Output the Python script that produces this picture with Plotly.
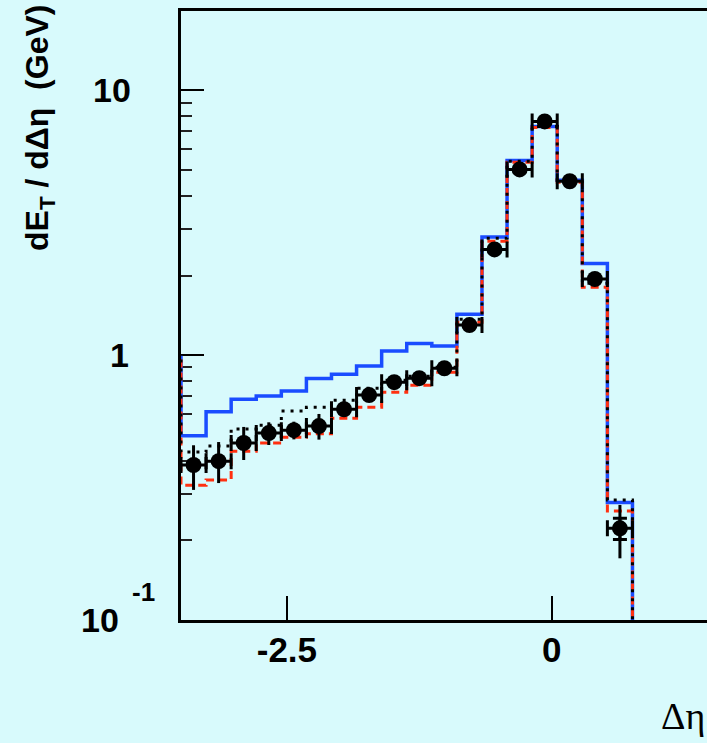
import numpy as np
import plotly.graph_objects as go

# ---------------- data ----------------
BIN_WIDTH = 4.5 / 19            # bin width in delta-eta
FIRST_EDGE = -3.5 - BIN_WIDTH   # first histogram bin lies just left of the visible range
FLOOR = 1e-3                    # "empty" level used to close the step histograms

# three model histograms (first entry = bin left of the frame)
hist_blue = [0.98, 0.496, 0.611, 0.682, 0.702, 0.733, 0.817, 0.848, 0.911, 1.038,
             1.107, 1.084, 1.428, 2.795, 5.442, 7.315, 4.575, 2.218, 0.278]
hist_red = [0.98, 0.323, 0.338, 0.434, 0.466, 0.490, 0.505, 0.578, 0.636, 0.725,
            0.770, 0.863, 1.332, 2.693, 5.35, 7.25, 4.496, 1.806, 0.258]
hist_black = [0.98, 0.431, 0.454, 0.526, 0.544, 0.615, 0.636, 0.676, 0.751, 0.805,
              0.833, 0.901, 1.367, 2.764, 5.40, 7.30, 4.58, 1.87, 0.284]

# measured points (one per visible bin)
data_y = [0.385, 0.398, 0.466, 0.508, 0.521, 0.540, 0.625, 0.707, 0.791, 0.819,
          0.893, 1.30, 2.51, 5.03, 7.64, 4.54, 1.94, 0.222]
data_err_hi = [0.072, 0.072, 0.070, 0.050, 0.040, 0.060, 0.045, 0.045, 0.045, 0.045,
               0.045, 0.050, 0.10, 0.15, 0.20, 0.15, 0.08, 0.050]
data_err_lo = [0.075, 0.069, 0.064, 0.050, 0.040, 0.060, 0.040, 0.040, 0.040, 0.040,
               0.040, 0.050, 0.10, 0.15, 0.20, 0.15, 0.08, 0.051]
inner_err_last = 0.0205   # inner (capped) error of the last point

xtick_vals = [-2.5, 0, 2.5]
xtick_text = ["-2.5", "0", "2.5"]
ytick_vals = [0.1, 1, 10]
ytick_text = ["10", "1", "10"]
ytick_exp = ["-1", "", ""]

# ---------------- derived ----------------
edges = FIRST_EDGE + BIN_WIDTH * np.arange(len(hist_blue) + 1)
centers = edges[1:len(data_y) + 1] + BIN_WIDTH / 2


def step_xy(vals):
    x = [edges[0]] + list(edges[:-1]) + [edges[-1]]
    y = [FLOOR] + list(vals) + [FLOOR]
    return x, y


BG = "#d8fafc"
SANS = "Liberation Sans, Arial, Helvetica, sans-serif"
SERIF = "Liberation Serif, Times New Roman, serif"

fig = go.Figure()

bx, by = step_xy(hist_blue)
fig.add_trace(go.Scatter(x=bx, y=by, mode="lines", line_shape="hv",
                         line=dict(color="#1a4cff", width=3.5), showlegend=False))
rx, ry = step_xy(hist_red)
fig.add_trace(go.Scatter(x=rx, y=ry, mode="lines", line_shape="hv",
                         line=dict(color="#ff3010", width=3, dash="8px,5px"), showlegend=False))
kx, ky = step_xy(hist_black)
fig.add_trace(go.Scatter(x=kx, y=ky, mode="lines", line_shape="hv",
                         line=dict(color="black", width=3, dash="3px,6px"), showlegend=False))

fig.add_trace(go.Scatter(
    x=centers, y=data_y, mode="markers",
    marker=dict(color="black", size=16, symbol="circle"),
    error_x=dict(type="constant", value=BIN_WIDTH / 2, color="black", thickness=3, width=8),
    error_y=dict(type="data", array=data_err_hi, arrayminus=data_err_lo,
                 color="black", thickness=3, width=0),
    showlegend=False))

# inner capped error of the last point
fig.add_trace(go.Scatter(
    x=[centers[-1]], y=[data_y[-1]], mode="markers",
    marker=dict(color="black", size=16, opacity=0),
    error_y=dict(type="constant", value=inner_err_last, color="black", thickness=3, width=7),
    showlegend=False))

# plot area in pixels
L, R, T, B = 181, 707, 11, 620
W, H = 707, 743
X_MIN = -3.5
PX_PER_UNIT = 105.9
X_MAX = X_MIN + (R - L) / PX_PER_UNIT

annotations = []
label_cx = {0.1: 100, 1: 119, 10: 112}
for v, t, e in zip(ytick_vals, ytick_text, ytick_exp):
    annotations.append(dict(x=(label_cx[v] - L) / (R - L), xref="paper",
                            y=np.log10(v), yref="y", text=t, showarrow=False,
                            xanchor="center", yanchor="middle",
                            font=dict(family=SANS, size=34, color="black", weight="bold")))
    if e:
        annotations.append(dict(x=(143 - L) / (R - L), xref="paper",
                                y=np.log10(v), yref="y", yshift=28, text=e, showarrow=False,
                                xanchor="center", yanchor="middle",
                                font=dict(family=SANS, size=26, color="black", weight="bold")))

annotations.append(dict(
    x=(40 - L) / (R - L), xref="paper", y=(B - 128) / (B - T), yref="paper",
    text="dE<sub>T</sub> / d\u0394\u03b7\u00a0\u00a0(GeV)", textangle=-90, showarrow=False,
    xanchor="center", yanchor="middle",
    font=dict(family=SANS, size=32, color="black", weight="bold")))

annotations.append(dict(
    x=1.0, xref="paper", y=-(716 - B) / (B - T), yref="paper",
    text="\u0394\u03b7", showarrow=False, xanchor="right", yanchor="middle",
    font=dict(family=SERIF, size=38, color="black")))

fig.update_layout(
    width=W, height=H,
    margin=dict(l=L, r=W - R, t=T, b=H - B, pad=0),
    paper_bgcolor=BG, plot_bgcolor=BG,
    showlegend=False,
    annotations=annotations,
    xaxis=dict(range=[X_MIN, X_MAX], showline=True, linewidth=3, linecolor="black",
               mirror=True, ticks="inside", ticklen=24, tickwidth=1.5, tickcolor="black",
               tickmode="array", tickvals=xtick_vals, ticktext=xtick_text,
               tickfont=dict(family=SANS, size=35, color="black", weight="bold"),
               ticklabelstandoff=-3, showgrid=False, zeroline=False, layer="below traces"),
    yaxis=dict(type="log", range=[-1, 1.3], showline=True, linewidth=3, linecolor="black",
               ticks="inside", ticklen=23, tickwidth=1.5, tickcolor="black",
               tickmode="array", tickvals=ytick_vals, showticklabels=False,
               minor=dict(ticks="inside", ticklen=11, tickwidth=1.5, tickcolor="#222",
                          dtick="D1", showgrid=False),
               showgrid=False, zeroline=False, layer="below traces"),
)

fig.write_html("out.html")
